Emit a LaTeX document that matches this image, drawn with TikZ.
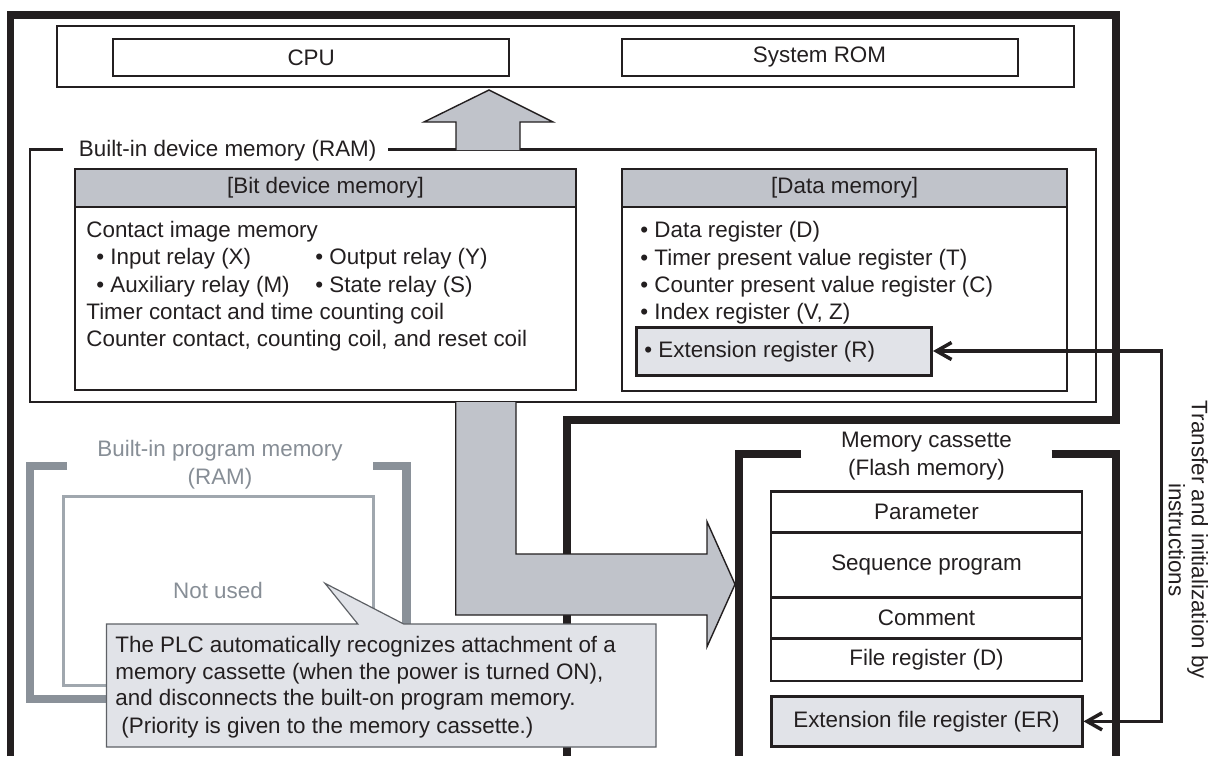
\documentclass[tikz,border=0pt]{standalone}
\usepackage{fontspec}
\setmainfont{Liberation Sans}
\usetikzlibrary{arrows.meta}
\definecolor{ink}{HTML}{231F20}
\definecolor{hdr}{HTML}{C0C3CA}
\definecolor{lite}{HTML}{E1E3E8}
\definecolor{pgray}{HTML}{8A9199}
\definecolor{pline}{HTML}{A0A7AE}
\definecolor{ptext}{HTML}{878E96}
\definecolor{cedge}{HTML}{5E6166}
\newcommand{\pxl}[1]{#1*0.5pt}
\newcommand{\mfont}{\fontsize{11.2}{13.6}\selectfont}
\begin{document}
\begin{tikzpicture}[x=0.5pt,y=-0.5pt,
  every node/.style={text=ink, font=\mfont},
  heavy/.style={draw=ink, line width=3.9pt},
  cell/.style={draw=ink, line width=1pt, inner sep=0pt},
  tcell/.style={draw=ink, line width=1.4pt, inner sep=0pt, minimum width=\pxl{311}},
  mid/.style={draw=ink, line width=1.1pt},
  t/.style={anchor=base west, inner sep=0pt},
  tc/.style={anchor=base, inner sep=0pt},
  arrowedge/.style={draw=ink, line width=0.7pt},
  pbracket/.style={draw=pgray, line width=4.25pt},
  loopline/.style={draw=ink, line width=1.75pt,
    {Straight Barb[length=7.5pt,width=8.5pt]}-{Straight Barb[length=7.5pt,width=8.5pt]}}
]
\path[use as bounding box, fill=white] (0,0) rectangle (1213,756);

% main unit frame
\draw[heavy] (10.5,756) -- (10.5,15) -- (1116,15) -- (1116,420) -- (566.7,420) -- (566.7,756);

% CPU / ROM
\node[cell, line width=0.9pt, minimum width=\pxl{1017.4}, minimum height=\pxl{61}] (unit) at (565.3,56.5) {};
\node[cell, minimum width=\pxl{395.7}, minimum height=\pxl{37.3}] (cpu) at (311.15,57.35) {CPU};
\node[cell, minimum width=\pxl{396}, minimum height=\pxl{37.3}] (rom) at (819.5,57.35) {System ROM};

% built-in device memory
\draw[mid] (63,149.5) -- (30,149.5) -- (30,402) -- (1096,402) -- (1096,149.5) -- (388,149.5);
\node[t] (ramlbl) at (78.5,156.5) {Built-in device memory (RAM)};

% bit device memory
\node[cell, minimum width=\pxl{500.1}, minimum height=\pxl{221}] (bit) at (325.45,279.5) {};
\node[cell, fill=hdr, minimum width=\pxl{500.1}, minimum height=\pxl{38}] (bith) at (325.45,188) {[Bit device memory]};
\node[t] (b1) at (86,237) {Contact image memory};
\node[t] (b2) at (96,264) {• Input relay (X)};
\node[t] (b3) at (315,264) {• Output relay (Y)};
\node[t] (b4) at (96,292) {• Auxiliary relay (M)};
\node[t] (b5) at (315,292) {• State relay (S)};
\node[t] (b6) at (86,319) {Timer contact and time counting coil};
\node[t] (b7) at (86,346) {Counter contact, counting coil, and reset coil};

% data memory
\node[cell, minimum width=\pxl{444.7}, minimum height=\pxl{222}] (data) at (844.65,280) {};
\node[cell, fill=hdr, minimum width=\pxl{444.7}, minimum height=\pxl{38}] (datah) at (844.65,188) {[Data memory]};
\node[t] (d1) at (640,237) {• Data register (D)};
\node[t] (d2) at (640,265) {• Timer present value register (T)};
\node[t] (d3) at (640,292) {• Counter present value register (C)};
\node[t] (d4) at (640,319) {• Index register (V, Z)};
\node[cell, fill=lite, line width=1.5pt, minimum width=\pxl{295.5}, minimum height=\pxl{48}] (extreg) at (783.75,351) {};
\node[t] (extregt) at (644,357) {• Extension register (R)};

% up arrow
\fill[hdr] (456,150) -- (456,122) -- (424,122) -- (489,90) -- (553,122) -- (520,122) -- (520,150) -- cycle;
\draw[arrowedge] (456,150) -- (456,122) -- (424,122) -- (489,90) -- (553,122) -- (520,122) -- (520,150);

% built-in program memory (not used)
\draw[pbracket] (67,466) -- (30,466) -- (30,699) -- (406.5,699) -- (406.5,466) -- (373,466);
\node[tc, text=ptext] (pl1) at (220,456) {Built-in program memory};
\node[tc, text=ptext] (pl2) at (220,484) {(RAM)};
\node[draw=pline, line width=1.5pt, minimum width=\pxl{310}, minimum height=\pxl{189}, text=ptext] (prog) at (218,590.5) {Not used};

% memory cassette
\draw[heavy] (801,454) -- (738.8,454) -- (738.8,756);
\draw[heavy] (1051.7,454) -- (1116,454) -- (1116,756);
\node[tc] (mc1) at (926.5,447) {Memory cassette};
\node[tc] (mc2) at (926.5,475) {(Flash memory)};
\node[tcell, minimum height=\pxl{41}] (param) at (926.5,512.2) {Parameter};
\node[tcell, minimum height=\pxl{64.8}] (seq) at (926.5,565.1) {Sequence program};
\node[tcell, minimum height=\pxl{41}] (comm) at (926.5,618) {Comment};
\node[tcell, minimum height=\pxl{42.5}] (filereg) at (926.5,659.75) {File register (D)};
\node[tcell, fill=lite, line width=1.5pt, minimum height=\pxl{49.3}] (er) at (926.5,721.35) {Extension file register (ER)};

% down-right arrow
\fill[hdr] (455.7,402) -- (455.7,615) -- (707,615) -- (707,646.7) -- (735,584.3) -- (707,521.7) -- (707,554) -- (516,554) -- (516,402) -- cycle;
\draw[arrowedge] (455.7,402) -- (455.7,615) -- (707,615) -- (707,646.7) -- (735,584.3) -- (707,521.7) -- (707,554) -- (516,554) -- (516,402);

% callout
\filldraw[fill=lite, draw=cedge, line width=0.6pt] (106.4,624) -- (357.8,624) -- (325,583.3) -- (403.7,624) -- (656,624) -- (656,747) -- (106.4,747) -- cycle;
\node[t] (c1) at (115,652) {The PLC automatically recognizes attachment of a};
\node[t] (c2) at (115,679) {memory cassette (when the power is turned ON),};
\node[t] (c3) at (115,705.5) {and disconnects the built-on program memory.};
\node[t] (c4) at (121,733) {(Priority is given to the memory cassette.)};

% transfer loop
\coordinate (lx) at (1161.7,536);
\draw[loopline] (extreg.east) -- (extreg.east -| lx) -- (er.east -| lx) -- (er.east);
\node[rotate=-90, align=center, inner sep=0pt, font=\fontsize{11.2}{10}\selectfont] (xfer) at (1188.3,540) {Transfer and initialization by\\instructions};
\end{tikzpicture}
\end{document}
